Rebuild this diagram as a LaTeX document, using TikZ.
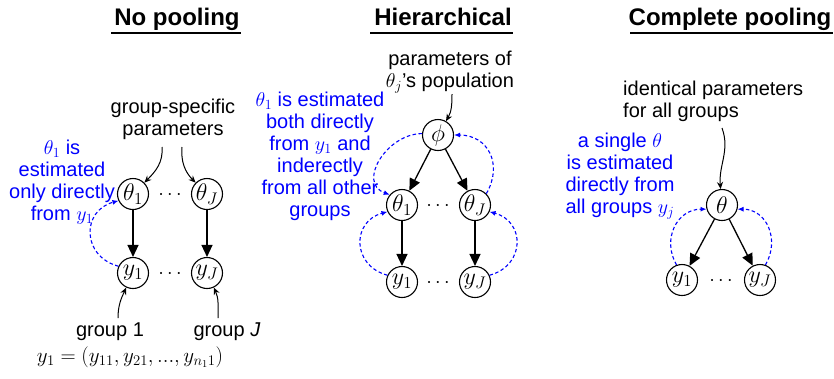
\RequirePackage{fix-cm}
\documentclass[tikz,border=0pt]{standalone}
\usepackage{fontspec}
\setmainfont{Liberation Sans}
\usetikzlibrary{arrows.meta}
\begin{document}
\begin{tikzpicture}[x=1bp,y=-1bp,
  every node/.style={font=\fontsize{20bp}{22bp}\selectfont},
  title/.style={font=\fontsize{24bp}{26bp}\selectfont\bfseries, anchor=base, inner sep=0},
  rule/.style={line width=1.5bp},
  var/.style={circle, draw, line width=1.1bp, minimum size=31bp, inner sep=0, font=\fontsize{24bp}{26bp}\selectfont},
  lbl/.style={align=center, inner sep=0},
  note/.style={align=center, inner sep=0, text=blue},
  dotrow/.style={inner sep=0, anchor=base},
  main/.style={line width=1.3bp, -{Triangle[length=12bp,width=11bp]}},
  pointer/.style={line width=1bp, -{Stealth[length=7bp,width=6bp]}},
  est/.style={blue, line width=1.1bp, dash pattern=on 3.5bp off 2.5bp, -{Latex[length=6bp,width=5bp]}}
]
\useasboundingbox (0,0) rectangle (834,378);

% ---------- No pooling ----------
\node[title] (t-np) at (177,25) {No pooling};
\draw[rule] (111,33) -- (241,33);
\node[lbl] (np-gsp) at (173,119) {group-specific\\parameters};
\node[var] (np-t1) at (133,194) {$\theta_1$};
\node[var] (np-tJ) at (207,194) {$\theta_J$};
\node[var] (np-y1) at (133,273) {$y_1$};
\node[var] (np-yJ) at (207,273) {$y_J$};
\node[dotrow] (np-d1) at (170,199) {$\cdots$};
\node[dotrow] (np-d2) at (170,278) {$\cdots$};
\coordinate (np-a1) at (162,147);
\coordinate (np-a2) at (182,147);
\draw[pointer] (np-a1) to[out=-85,in=45] (np-t1);
\draw[pointer] (np-a2) to[out=-95,in=135] (np-tJ);
\draw[main] (np-t1) -- (np-y1);
\draw[main] (np-tJ) -- (np-yJ);
\draw[est] (np-y1.155) to[out=165,in=195,looseness=1.5] (np-t1.205);
\node[note] (np-note) at (62,182) {$\theta_1$ is\\estimated\\only directly\\from $y_1$};
\node[lbl] (np-g1) at (110,332) {group 1};
\node[lbl] (np-gJ) at (227,332) {group \textit{J}};
\coordinate (np-b1) at (118,318);
\coordinate (np-b2) at (218,318);
\draw[pointer] (np-b1) to[out=90,in=-115] (np-y1);
\draw[pointer] (np-b2) to[out=90,in=-65] (np-yJ);
\node[lbl, font=\fontsize{21bp}{23bp}\selectfont] (np-form) at (130,357) {$y_1 = (y_{11}, y_{21}, ..., y_{n_1 1})$};

% ---------- Hierarchical ----------
\node[title] (t-h) at (443,25) {Hierarchical};
\draw[rule] (370,33) -- (513,33);
\node[lbl] (h-pop) at (450,72) {parameters of\\$\theta_j$'s population};
\node[var] (h-phi) at (438,135) {$\phi$};
\node[var] (h-t1) at (402,205) {$\theta_1$};
\node[var] (h-tJ) at (475,205) {$\theta_J$};
\node[var] (h-y1) at (402,282) {$y_1$};
\node[var] (h-yJ) at (475,282) {$y_J$};
\node[dotrow] (h-d1) at (438,210) {$\cdots$};
\node[dotrow] (h-d2) at (438,287) {$\cdots$};
\coordinate (h-a) at (452,94);
\draw[pointer] (h-a) to[out=-90,in=60] (h-phi);
\draw[main] (h-phi) -- (h-t1);
\draw[main] (h-phi) -- (h-tJ);
\draw[main] (h-t1) -- (h-y1);
\draw[main] (h-tJ) -- (h-yJ);
\draw[est] (h-phi.175) to[out=180,in=160,looseness=1.3] (h-t1.140);
\draw[est] (h-tJ.45) to[out=60,in=0,looseness=1.3] (h-phi.0);
\draw[est] (h-y1.155) to[out=165,in=195,looseness=1.5] (h-t1.205);
\draw[est] (h-yJ.25) to[out=15,in=-15,looseness=1.5] (h-tJ.-25);
\node[note] (h-note) at (320,156) {$\theta_1$ is estimated\\both directly\\from $y_1$ and\\inderectly\\from all other\\groups};

% ---------- Complete pooling ----------
\node[title] (t-c) at (730,25) {Complete pooling};
\draw[rule] (630,33) -- (833,33);
\node[lbl, align=left, anchor=west] (c-par) at (623,101.5) {identical parameters\\for all groups};
\node[var] (c-t) at (722,205) {$\theta$};
\node[var] (c-y1) at (682,280) {$y_1$};
\node[var] (c-yJ) at (760,280) {$y_J$};
\node[dotrow] (c-d) at (721,285) {$\cdots$};
\coordinate (c-a) at (722,128);
\draw[pointer] (c-a) to[out=-70,in=95] (c-t);
\draw[main] (c-t) -- (c-y1);
\draw[main] (c-t) -- (c-yJ);
\draw[est] (c-y1.110) to[out=120,in=180,looseness=1.2] (c-t.195);
\draw[est] (c-yJ.70) to[out=60,in=0,looseness=1.2] (c-t.-15);
\node[note] (c-note) at (620,176) {a single $\theta$\\is estimated\\directly from\\all groups $y_j$};
\end{tikzpicture}
\end{document}
